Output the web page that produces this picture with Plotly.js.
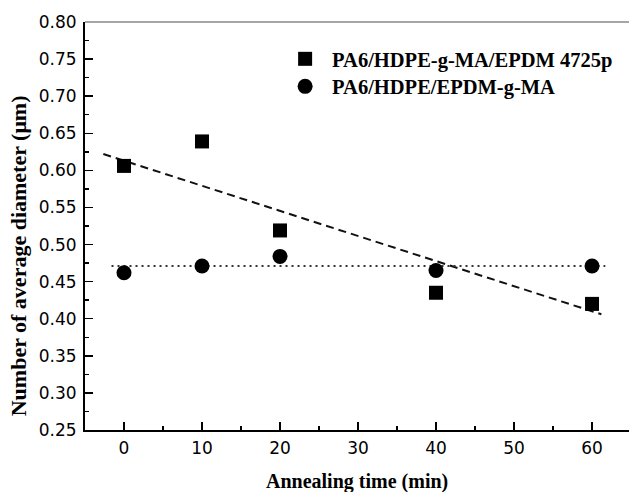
<!DOCTYPE html>
<html>
<head>
<meta charset="utf-8">
<script src="https://cdn.plot.ly/plotly-3.0.1.min.js"></script>
<style>html,body{margin:0;padding:0;background:#fff;}#chart{width:629px;height:492px;}</style>
</head>
<body>
<div id="chart"></div>
<script>
// Data
const annealTime = [0, 10, 20, 40, 60];
const seriesNames = ['PA6/HDPE-g-MA/EPDM 4725p', 'PA6/HDPE/EPDM-g-MA'];
const diamSquare = [0.606, 0.639, 0.519, 0.435, 0.420];
const diamCircle = [0.462, 0.471, 0.484, 0.465, 0.471];
// Trend lines (end points)
const fitSquareX = [-2.65, 61.2];
const fitSquareY = [0.622, 0.406];
const fitCircleX = [-1.6, 61.7];
const fitCircleY = [0.471, 0.471];
const yTickVals = [0.25, 0.30, 0.35, 0.40, 0.45, 0.50, 0.55, 0.60, 0.65, 0.70, 0.75, 0.80];
const xTickVals = [0, 10, 20, 30, 40, 50, 60];

const serif = 'Liberation Serif, Times New Roman, serif';
const sans = 'DejaVu Sans, Arial, sans-serif';
const legFont = {family: serif, size: 20.5, color: '#000', weight: 'bold'};

const traces = [
  {x: fitSquareX, y: fitSquareY, mode: 'lines', showlegend: false, hoverinfo: 'skip',
   line: {color: '#111', width: 2, dash: '8px,5px'}},
  {x: fitCircleX, y: fitCircleY, mode: 'lines', showlegend: false, hoverinfo: 'skip',
   line: {color: '#333', width: 2, dash: '2px,4px'}},
  {x: annealTime, y: diamSquare, mode: 'markers', name: seriesNames[0], legend: 'legend',
   marker: {symbol: 'square', size: 14, color: '#000'}},
  {x: annealTime, y: diamCircle, mode: 'markers', name: seriesNames[1], legend: 'legend2',
   marker: {symbol: 'circle', size: 15, color: '#000'}}
];

const layout = {
  width: 629, height: 492,
  margin: {l: 85, r: 0, t: 22, b: 62},
  paper_bgcolor: '#fff', plot_bgcolor: '#fff',
  showlegend: true,
  legend: {x: 0.355, y: (430 - 59) / 408, xanchor: 'left', yanchor: 'middle', bgcolor: 'rgba(0,0,0,0)',
           itemwidth: 44, font: legFont},
  legend2: {x: 0.355, y: (430 - 86.5) / 408, xanchor: 'left', yanchor: 'middle', bgcolor: 'rgba(0,0,0,0)',
           itemwidth: 44, font: legFont},
  xaxis: {range: [-5, 64.74], tickvals: xTickVals, ticks: 'inside', ticklen: 8, tickwidth: 1.5,
          tickcolor: '#000', showline: true, linecolor: '#000', linewidth: 2, mirror: false,
          showgrid: false, zeroline: false, ticklabelstandoff: 2,
          tickfont: {family: sans, size: 17, color: '#000'},
          minor: {dtick: 5, ticks: 'inside', ticklen: 4, tickwidth: 1.5, tickcolor: '#000', showgrid: false}},
  yaxis: {range: [0.25, 0.80], tickvals: yTickVals, tickformat: '.2f', ticks: 'inside', ticklen: 8,
          tickwidth: 1.5, tickcolor: '#000', showline: true, linecolor: '#000', linewidth: 2,
          mirror: false, showgrid: false, zeroline: false, ticklabelstandoff: 3,
          tickfont: {family: sans, size: 17, color: '#000'},
          minor: {dtick: 0.025, ticks: 'inside', ticklen: 4, tickwidth: 1.5, tickcolor: '#000', showgrid: false}},
  shapes: [
    {type: 'line', xref: 'paper', yref: 'paper', x0: 0, x1: 1, y0: 1, y1: 1,
     line: {color: '#888', width: 1.5}}
  ],
  annotations: [
    {text: 'Number of average diameter (μm)', xref: 'paper', yref: 'paper',
     x: -0.123, y: 0.426, xanchor: 'center', yanchor: 'middle', textangle: -90, showarrow: false,
     font: {family: serif, size: 22, color: '#000', weight: 'bold'}},
    {text: 'Annealing time (min)', xref: 'paper', yref: 'paper',
     x: 0.5, y: -0.125, xanchor: 'center', yanchor: 'middle', showarrow: false,
     font: {family: serif, size: 20, color: '#000', weight: 'bold'}}
  ]
};

Plotly.newPlot('chart', traces, layout, {displayModeBar: false, staticPlot: true});
</script>
</body>
</html>
